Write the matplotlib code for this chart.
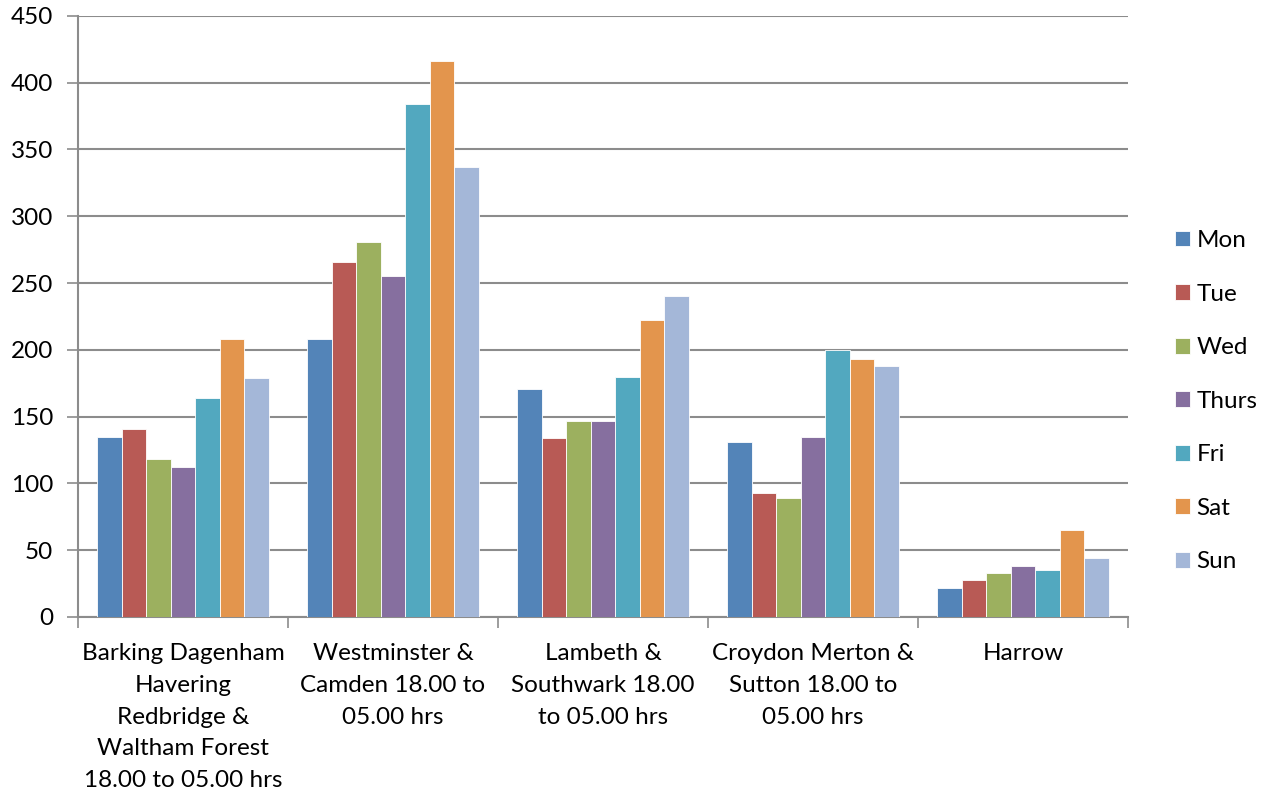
import numpy as np
import matplotlib.pyplot as plt
from matplotlib.ticker import FixedLocator

plt.rcParams['font.family'] = ['Lato', 'DejaVu Sans']

areas = ['Barking Dagenham\nHavering\nRedbridge &\nWaltham Forest\n18.00 to 05.00 hrs',
         'Westminster &\nCamden 18.00 to\n05.00 hrs',
         'Lambeth &\nSouthwark 18.00\nto 05.00 hrs',
         'Croydon Merton &\nSutton 18.00 to\n05.00 hrs',
         'Harrow']
days = ['Mon', 'Tue', 'Wed', 'Thurs', 'Fri', 'Sat', 'Sun']

mon = [135, 208, 171, 131, 22]
tue = [141, 266, 134, 93, 28]
wed = [118, 281, 147, 89, 33]
thurs = [112, 255, 147, 135, 38]
fri = [164, 384, 180, 200, 35]
sat = [208, 416, 222, 193, 65]
sun = [179, 337, 240, 188, 44]
series = [mon, tue, wed, thurs, fri, sat, sun]

colors = ['#5384b8', '#b85a55', '#9cb05f', '#866f9f', '#52a8bf', '#e3954d', '#a4b7d8']

fig = plt.figure(figsize=(12.62, 7.93), dpi=100)
ax = fig.add_axes([0.0618, 0.222, 0.832, 0.758])

x = np.arange(len(areas))
w = 0.117
for i, vals in enumerate(series):
    ax.bar(x - 3 * w + i * w, vals, width=w, color=colors[i], label=days[i],
           edgecolor='white', linewidth=0.6, zorder=3)

ax.set_xlim(-0.5, len(areas) - 0.5)
ax.set_ylim(0, 450)
ax.set_yticks(np.arange(0, 451, 50))
ax.yaxis.grid(True, color='#8c8c8c', linewidth=1.5, zorder=0)

ax.set_xticks(x)
ax.set_xticklabels(areas, fontsize=17.5, linespacing=1.63)
ax.xaxis.set_minor_locator(FixedLocator(np.arange(-0.5, len(areas), 1.0)))
ax.tick_params(axis='x', which='major', length=0, pad=19)
ax.tick_params(axis='x', which='minor', length=8, width=1.2, color='#8c8c8c')
ax.tick_params(axis='y', length=8, width=1.2, color='#8c8c8c', labelsize=17.5, pad=10)

for s in ['top', 'right']:
    ax.spines[s].set_visible(False)
for s in ['left', 'bottom']:
    ax.spines[s].set_color('#8c8c8c')
    ax.spines[s].set_linewidth(1.5)

fig.legend(loc='center left', bbox_to_anchor=(0.923, 0.494), frameon=False,
           fontsize=17.5, handlelength=0.62, handleheight=0.62, handletextpad=0.28,
           labelspacing=1.34, borderaxespad=0)

fig.savefig('out.png', dpi=100)
